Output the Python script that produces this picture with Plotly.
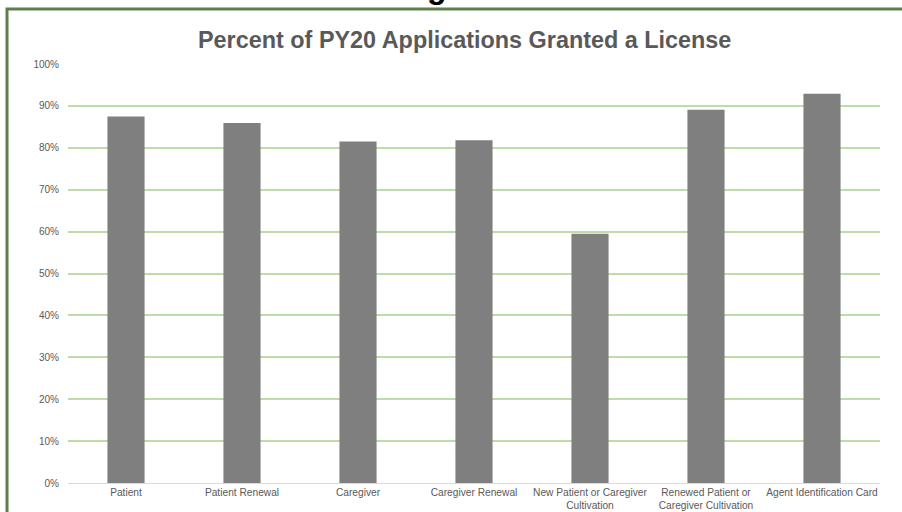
import plotly.graph_objects as go

categories = ["Patient", "Patient Renewal", "Caregiver", "Caregiver Renewal",
              "New Patient or Caregiver<br>Cultivation",
              "Renewed Patient or<br>Caregiver Cultivation",
              "Agent Identification Card"]
values = [0.875, 0.859, 0.815, 0.818, 0.595, 0.891, 0.929]
y_ticks = [i / 10 for i in range(11)]
y_tick_labels = [f"{i*10}%" for i in range(11)]

FONT = "Liberation Sans, Arial, sans-serif"

fig = go.Figure(go.Bar(x=categories, y=values, marker_color="#7f7f7f",
                       marker_line_width=0, hoverinfo="skip"))

L, R, T, B = 68, 22, 64, 29
W, H = 902, 512
pw, ph = W - L - R, H - T - B

def px_x(p):
    return (p - L) / pw

def px_y(p):
    return (H - B - p) / ph

fig.update_layout(
    template="none",
    width=W, height=H,
    margin=dict(l=L, r=R, t=T, b=B, autoexpand=False),
    paper_bgcolor="white", plot_bgcolor="white",
    bargap=0.68,
    showlegend=False,
    font=dict(family=FONT, color="#595959", size=10),
    xaxis=dict(showgrid=False, showline=False, ticks="", automargin=False,
               ticklabelstandoff=2,
               tickfont=dict(size=10.2, color="#595959")),
    yaxis=dict(range=[0, 1], tickvals=y_ticks, ticktext=y_tick_labels,
               showgrid=True, gridcolor="#bddcA8", gridwidth=1.6,
               zeroline=True, zerolinecolor="#d9d9d9", zerolinewidth=1,
               showline=False, ticks="", ticklabelstandoff=8, automargin=False,
               tickfont=dict(size=10, color="#595959")),
    shapes=[dict(type="rect", xref="paper", yref="paper",
                 x0=px_x(7), x1=px_x(915), y0=px_y(530), y1=px_y(9),
                 line=dict(color="#5f7f4a", width=3), fillcolor="rgba(0,0,0,0)",
                 layer="above")],
    annotations=[
        dict(text="<b>Percent of PY20 Applications Granted a License</b>",
             xref="paper", yref="paper", x=px_x(464), y=px_y(40),
             xanchor="center", yanchor="middle", showarrow=False,
             font=dict(size=23.4, color="#595959", family=FONT)),
        dict(text="<b>g</b>", xref="paper", yref="paper",
             x=px_x(437), y=px_y(7), xanchor="center", yanchor="bottom",
             showarrow=False, font=dict(size=32, color="black", family=FONT)),
    ],
)

fig.write_html("out.html", config={"displayModeBar": False},
               post_script="document.body.style.margin='0';document.body.style.overflow='hidden';")
